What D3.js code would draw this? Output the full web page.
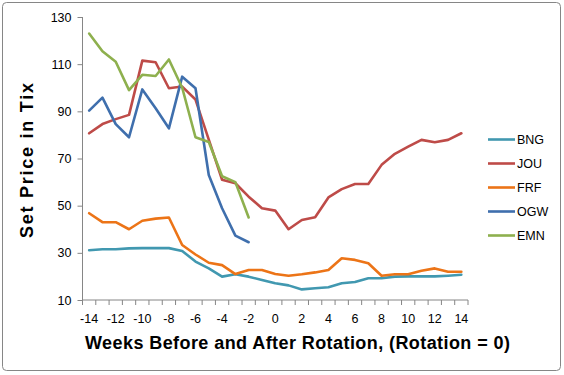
<!DOCTYPE html>
<html><head><meta charset="utf-8">
<script src="https://cdn.jsdelivr.net/npm/d3@7"></script>
<style>body{margin:0;background:#fff}svg{display:block}</style>
</head><body>
<svg id="c" width="564" height="375"></svg>
<script>
const weeks = d3.range(-14, 15);
const tickLabels = [-14,-12,-10,-8,-6,-4,-2,0,2,4,6,8,10,12,14];
const yTicks = [10,30,50,70,90,110,130];
const seriesNames = ["BNG","JOU","FRF","OGW","EMN"];
const BNG = [31.1,31.5,31.5,31.9,32,32,32,30.8,26.3,23.4,19.9,20.9,19.9,18.5,17.1,16.2,14.5,15,15.4,17.1,17.6,19.2,19.2,19.9,20,20,20,20.3,20.7];
const JOU = [80.7,84.6,86.7,88.5,111.5,110.8,99.8,100.5,95,78,61,59.5,53.8,48.9,47.9,40,43.9,45.1,53.5,57,59.2,59.2,67.3,72,75,77.9,76.9,77.9,80.7];
const FRF = [46.8,43,43,40,43.6,44.5,45,33.3,29.3,25.8,24.8,21,22.7,22.7,21,20.3,20.9,21.7,22.7,27.7,27,25.6,20.3,20.9,20.9,22.4,23.4,22,22];
const OGW = [90.3,95.8,84.6,79,99.3,91.3,82.8,104.7,99.8,63,48.9,37.3,34.5];
const EMN = [123,115.5,111,99,105.5,105,112,100,79,77,62.5,60,45];
const colors = ["#4198B0","#BE4B48","#EC7417","#3F6FAD","#8EB04E"];
const seriesValues = [BNG,JOU,FRF,OGW,EMN];

const svg = d3.select("#c");
const font = "'Liberation Sans', Arial, sans-serif";
svg.append("rect").attr("x",2.5).attr("y",2.5).attr("width",558).attr("height",368)
  .attr("rx",4).attr("fill","#fff").attr("stroke","#868686").attr("stroke-width",1);

const L = 82.5, R = 468, T = 17, B = 300;
const x = d3.scaleBand().domain(weeks).range([L, R]);
const y = d3.scaleLinear().domain([10,130]).range([B, T]);

// y axis
const ya = svg.append("g").attr("transform",`translate(${L},0)`)
  .call(d3.axisLeft(y).tickValues(yTicks).tickSize(5).tickPadding(6));
ya.selectAll("path,line").attr("stroke","#868686");
ya.selectAll("text").attr("font-family",font).attr("font-size","12.5px").attr("fill","#000");
ya.select(".domain").attr("d",`M0,${T}V${B}`);

// x axis
const xa = svg.append("g").attr("transform",`translate(0,${B})`);
xa.append("line").attr("x1",L).attr("x2",R).attr("stroke","#868686");
const bounds = weeks.map(w => x(w)).concat([R]);
xa.selectAll(".tk").data(bounds).join("line").attr("x1",d=>d).attr("x2",d=>d)
  .attr("y1",0).attr("y2",5).attr("stroke","#868686");
xa.selectAll(".lb").data(tickLabels).join("text")
  .attr("x",d=>x(d)+x.bandwidth()/2).attr("y",23)
  .attr("text-anchor","middle").attr("font-family",font).attr("font-size","12.5px").text(d=>d);

// lines
const line = d3.line().x((d,i)=>x(weeks[i])+x.bandwidth()/2).y(d=>y(d));
seriesValues.forEach((vals,k)=>{
  svg.append("path").datum(vals).attr("d",line).attr("fill","none")
    .attr("stroke",colors[k]).attr("stroke-width",2.6).attr("stroke-linejoin","round").attr("stroke-linecap","round");
});

// titles
svg.append("text").attr("transform",`translate(33,160.5) rotate(-90)`)
  .attr("text-anchor","middle").attr("font-family",font).attr("font-weight","bold")
  .attr("font-size","18px").attr("textLength",155).attr("lengthAdjust","spacing")
  .text("Set Price in Tix");
svg.append("text").attr("x",297.5).attr("y",349).attr("text-anchor","middle")
  .attr("font-family",font).attr("font-weight","bold").attr("font-size","18px")
  .attr("textLength",425).attr("lengthAdjust","spacing")
  .text("Weeks Before and After Rotation, (Rotation = 0)");

// legend
const lg = svg.append("g");
seriesNames.forEach((n,k)=>{
  const yy = 139.5 + k*24;
  lg.append("line").attr("x1",488).attr("x2",515).attr("y1",yy).attr("y2",yy)
    .attr("stroke",colors[k]).attr("stroke-width",2.6);
  lg.append("text").attr("x",517).attr("y",yy+4.5).attr("font-family",font)
    .attr("font-size","12.5px").text(n);
});
</script>
</body></html>
